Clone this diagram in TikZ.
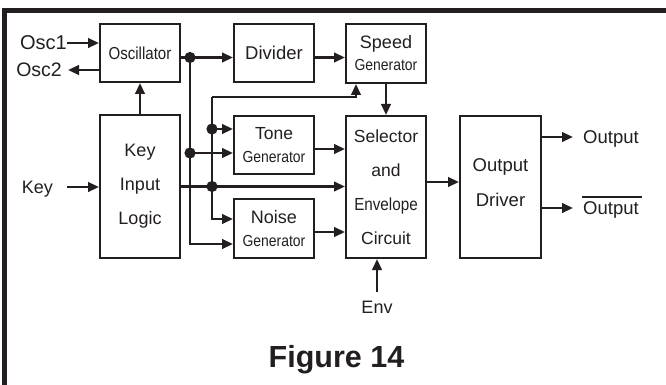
\documentclass[tikz,border=0pt]{standalone}
\usepackage{fontspec}
\setmainfont{Liberation Sans}
\newfontfamily\cond[FakeStretch=0.87]{Liberation Sans}
\usetikzlibrary{arrows.meta,calc}
\definecolor{ink}{HTML}{231F20}
\begin{document}
\begin{tikzpicture}[x=1pt,y=-1pt,
  box/.style={draw=ink, line width=2pt, inner sep=0pt, align=center, text=ink},
  arr/.style={draw=ink, line width=2.4pt, -{Triangle[length=11pt,width=9.5pt]}},
  lbl/.style={text=ink, inner sep=0pt, text height=13pt, text depth=0pt, font=\fontsize{18}{22}\selectfont}]
\fill[white] (0,0) rectangle (666,385);
\useasboundingbox (0,0) rectangle (666,385);
% frame
\draw[ink, line width=5pt] (4.5,385) -- (4.5,10.5) -- (666,10.5);
% boxes
\node[box, minimum width=80pt, minimum height=58pt, font=\cond\fontsize{17.3}{20}\selectfont] (osc) at (140,53) {Oscillator};
\node[box, minimum width=80pt, minimum height=143pt, font=\fontsize{18}{34}\selectfont] (kil) at (140,186.5) {Key\\Input\\Logic};
\node[box, minimum width=80pt, minimum height=58pt, font=\fontsize{18.5}{22}\selectfont] (div) at (274,53) {Divider};
\node[box, minimum width=80pt, minimum height=59pt, font=\fontsize{18}{22}\selectfont] (speed) at (386,53.5) {Speed\\{\cond\fontsize{16}{22}\selectfont Generator}};
\node[box, minimum width=80pt, minimum height=58pt, font=\fontsize{17.5}{23}\selectfont] (tone) at (274,145) {Tone\\{\cond\fontsize{16}{23}\selectfont Generator}};
\node[box, minimum width=80pt, minimum height=59pt, font=\fontsize{18}{23}\selectfont] (noise) at (274,228.5) {Noise\\{\cond\fontsize{16}{23}\selectfont Generator}};
\node[box, minimum width=80pt, minimum height=142pt, font=\fontsize{17.5}{34}\selectfont] (sel) at (386,187) {Selector\\and\\{\cond Envelope}\\Circuit};
\node[box, minimum width=81pt, minimum height=142pt,
  label={[text=ink, align=center, font=\fontsize{18.5}{35}\selectfont, yshift=4.5pt]center:{Output\\Driver}}] (drv) at (500.5,187) {};
% outside labels
\node[lbl, anchor=east, font=\fontsize{20}{22}\selectfont] (osc1) at (67,43) {Osc1};
\node[lbl, anchor=east, font=\fontsize{19.5}{22}\selectfont] (osc2) at (62,70) {Osc2};
\node[lbl, anchor=east] (key) at (53,187) {Key};
\node[lbl] (env) at (377,307) {Env};
\node[lbl, anchor=west, font=\fontsize{18.5}{22}\selectfont] (out) at (583,137) {Output};
\node[lbl, anchor=west, font=\fontsize{18.5}{22}\selectfont] (outb) at (583,208) {Output};
\draw[ink, line width=2pt] ([xshift=-1pt,yshift=4.5pt]outb.north west) -- ([xshift=3pt,yshift=4.5pt]outb.north east);
\node[text=ink, anchor=base, font=\bfseries\fontsize{30.5}{36}\selectfont] (fig) at (336.5,367) {Figure 14};
% junctions
\coordinate (j1) at (190,57.5);
\coordinate (j2) at (190,153);
\coordinate (c1) at (212,97);
\coordinate (j3) at (212,129);
\coordinate (j4) at (c1 |- kil.east);
% connectors
\draw[arr] (osc1.east) -- (osc.west |- osc1.east);
\draw[arr] (osc.west |- osc2.east) -- ([xshift=6pt]osc2.east);
\draw[arr] ([xshift=14pt]key.east) -- (kil.west |- key.east);
\draw[arr] (kil.north) -- (osc.south);
\draw[arr] (osc.east |- j1) -- (div.west |- j1);
\draw[arr] (div.east |- j1) -- (speed.west |- j1);
\draw[arr] (speed.south) -- (sel.north);
\draw[arr] (c1) -| ([xshift=-30pt]speed.south);
\draw[arr] (c1) |- ([yshift=9.5pt]noise.west);
\draw[arr] (j1) |- ([yshift=-15.5pt]noise.west);
\draw[arr] (j3) -- (tone.west |- j3);
\draw[arr] (j2) -- (tone.west |- j2);
\draw[arr] (kil.east) -- (sel.west |- kil.east);
\draw[arr] ([yshift=-4pt]tone.east) -- ([yshift=-4pt]sel.west |- tone.east);
\draw[arr] ([yshift=-3.5pt]noise.east) -- ([yshift=-3.5pt]sel.west |- noise.east);
\draw[arr] ([yshift=8.5pt]env.north) -- (env |- sel.south);
\draw[arr] ([yshift=5pt]sel.east) -- ([yshift=5pt]drv.west);
\draw[arr] (drv.east |- out.west) -- ([xshift=-10pt]out.west);
\draw[arr] (drv.east |- outb.west) -- ([xshift=-10pt]outb.west);
\foreach \p in {j1,j2,j3,j4} \fill[ink] (\p) circle (5.6pt);
\end{tikzpicture}
\end{document}
